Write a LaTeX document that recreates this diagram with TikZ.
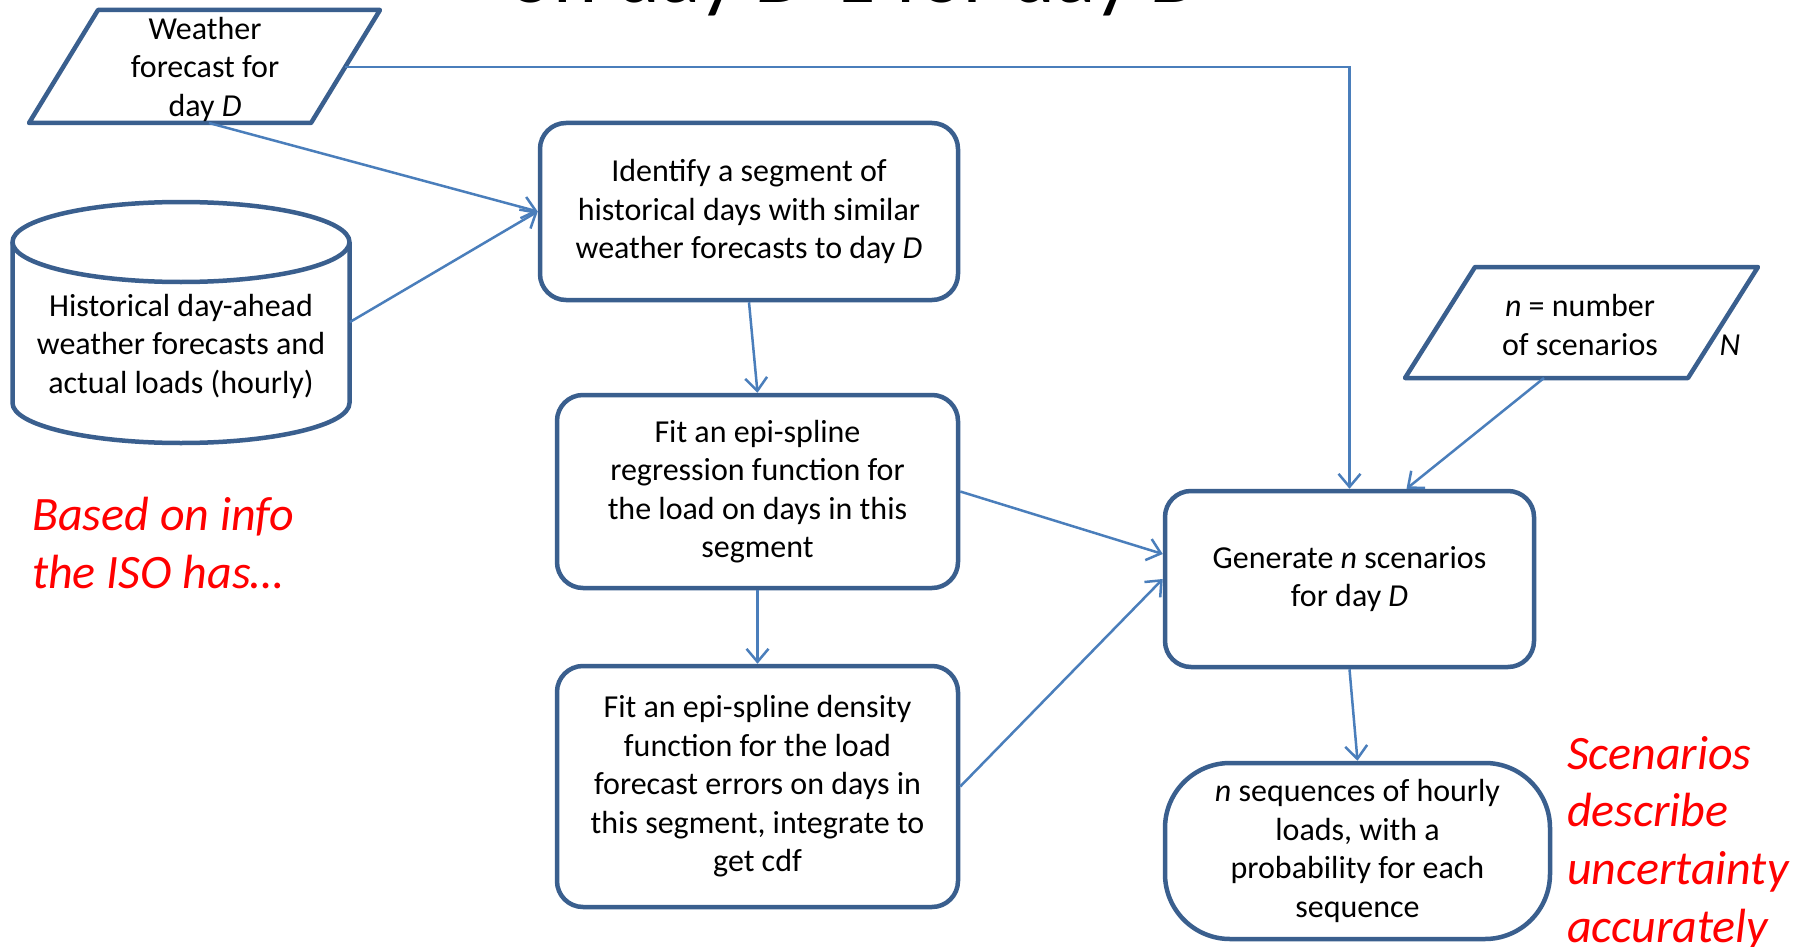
\documentclass[tikz,border=0pt]{standalone}
\usepackage{fontspec}
\setmainfont{Carlito}
\usetikzlibrary{arrows.meta}
\definecolor{boxblue}{HTML}{3A5F8E}
\definecolor{arrblue}{HTML}{4A7EBB}
\begin{document}
\begin{tikzpicture}[x=1pt,y=-1pt,
  box/.style={draw=boxblue, line width=4.5pt, rounded corners=26pt, align=center,
    font=\fontsize{32}{38.5}\selectfont, inner sep=0pt},
  shapeline/.style={draw=boxblue, line width=4.5pt, line join=round},
  txt/.style={align=center, font=\fontsize{32}{38.5}\selectfont, inner sep=0pt},
  conn/.style={draw=arrblue, line width=2.5pt},
  arr/.style={conn, -{Straight Barb[length=13pt,width=22pt]}},
  note/.style={text=red, align=left, font=\fontsize{48}{57.6}\selectfont\itshape, inner sep=0pt}]
\useasboundingbox (0,0) rectangle (1807,947);
\begin{scope}
\clip (0,0) rectangle (1807,947);
\fill[white] (0,0) rectangle (1807,947);
% title (cut off at top)
\node[font=\fontsize{84}{90}\selectfont, anchor=base, inner sep=0pt] (title) at (856,3) {on day \textit{D}-1 for day \textit{D}};

% weather parallelogram
\draw[shapeline] (98,10) -- (380,10) -- (311,123) -- (29,123) -- cycle;
\node[txt] (weather) at (205,69) {Weather\\forecast for\\day \textit{D}};
\coordinate (wR) at (345,67);
\coordinate (wB) at (209,123);

% cylinder
\draw[shapeline] (12.5,242) -- (12.5,403) arc[start angle=180, end angle=0, x radius=168.5, y radius=40] -- (349.5,242);
\draw[shapeline] (181,242) ellipse [x radius=168.5, y radius=40];
\node[txt] (hist) at (181,346) {Historical day-ahead\\weather forecasts and\\actual loads (hourly)};
\coordinate (cylR) at (350,322);

% process boxes
\node[box, minimum width=418pt, minimum height=177pt] (identify) at (749,211.5)
  {Identify a segment of\\historical days with similar\\weather forecasts to day \textit{D}};
\node[box, minimum width=401pt, minimum height=193pt] (regression) at (757.5,491.5)
  {Fit an epi-spline\\regression function for\\the load on days in this\\segment};
\node[box, minimum width=401pt, minimum height=241pt] (density) at (757.5,786.5)
  {Fit an epi-spline density\\function for the load\\forecast errors on days in\\this segment, integrate to\\get cdf};
\node[box, minimum width=369pt, minimum height=176pt] (generate) at (1349.5,579)
  {Generate \textit{n} scenarios\\for day \textit{D}};
\node[box, rounded corners=65pt, minimum width=385pt, minimum height=176pt] (sequences) at (1357.5,851)
  {\textit{n} sequences of hourly\\loads, with a\\probability for each\\sequence};

% n parallelogram
\draw[shapeline] (1475,267) -- (1758,267) -- (1688,378) -- (1405,378) -- cycle;
\node[txt] (nnode) at (1580,325) {\textit{n} = number\\of scenarios};
\node[txt] (nlabel) at (1730,345) {\textit{N}};
\coordinate (nB) at (1544,378);

% connectors
\draw[arr] (wB) -- (identify.west);
\draw[arr] (cylR) -- (identify.west);
\draw[arr] (wR) -| (generate.north);
\draw[arr] (identify.south) -- (regression.north);
\draw[arr] (regression.south) -- (density.north);
\draw[arr] (regression.east) -- ([yshift=25pt]generate.west);
\draw[arr] (density.east) -- (generate.west);
\draw[arr] (nB) -- ([xshift=57pt]generate.north);
\draw[arr] (generate.south) -- (sequences.north);

% notes
\node[note, anchor=west] (iso) at (32,543) {Based on info\\the ISO has…};
\node[note, anchor=west] (scen) at (1567,843) {Scenarios\\describe\\uncertainty\\accurately};
\end{scope}
\end{tikzpicture}
\end{document}
